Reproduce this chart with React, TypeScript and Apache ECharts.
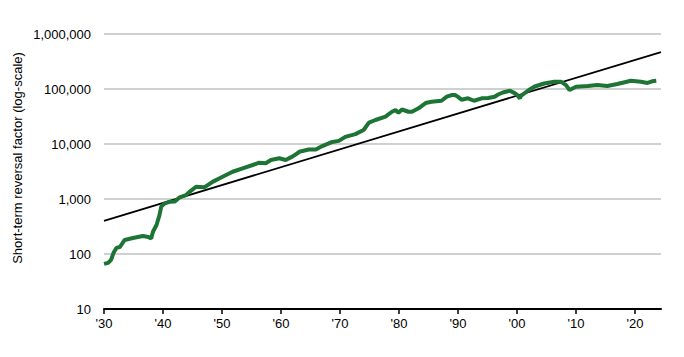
import React, { useEffect, useRef } from "react";
import * as echarts from "echarts";

const years: number[] = [
  1930.0, 1930.7, 1931.2, 1931.6, 1932.1, 1932.7, 1933.5, 1934.9, 1936.6, 1937.5,
  1938.0, 1938.3, 1938.9, 1939.4, 1939.7, 1940.3, 1941.1, 1942.0, 1942.8, 1943.9,
  1944.5, 1945.6, 1947.0, 1948.4, 1950.1, 1951.8, 1953.5, 1955.2, 1956.3, 1957.4,
  1958.3, 1959.7, 1960.8, 1961.9, 1962.8, 1963.1, 1964.7, 1965.9, 1967.0, 1968.7,
  1969.8, 1970.9, 1972.6, 1974.0, 1974.9, 1976.0, 1977.7, 1978.8, 1979.4, 1979.9,
  1980.5, 1981.6, 1982.2, 1983.3, 1984.5, 1985.5, 1987.2, 1988.1, 1988.9, 1989.5,
  1990.0, 1990.6, 1991.7, 1992.7, 1994.0, 1995.1, 1996.2, 1996.8, 1997.6, 1998.8,
  1999.6, 2000.0, 2000.5, 2000.7, 2001.3, 2002.0, 2003.0, 2004.6, 2006.3, 2007.5,
  2008.3, 2008.9, 2010.0, 2012.0, 2013.6, 2015.3, 2017.0, 2019.3, 2021.0, 2022.1,
  2022.9, 2023.6,
];

const factorValues: number[] = [
  66, 69, 78, 104, 129, 134, 180, 195, 212, 204,
  191, 254, 337, 510, 726, 834, 890, 900, 1070, 1175,
  1350, 1670, 1630, 2050, 2540, 3130, 3610, 4150, 4570, 4460,
  5130, 5500, 5130, 5900, 6790, 7240, 7960, 7960, 9160, 10900,
  11400, 13500, 15100, 18000, 24500, 27300, 31400, 38600, 41500, 37000,
  42400, 38600, 38600, 44600, 55600, 58800, 61200, 72400, 77600, 77600,
  72000, 63800, 67700, 61200, 67700, 68500, 72400, 79400, 86300, 93000,
  84100, 78000, 67700, 76000, 84100, 95900, 111000, 126000, 135000, 135000,
  118000, 95900, 110000, 113000, 118000, 113000, 123000, 141000, 135000, 129000,
  138000, 141000,
];

const trendYears: number[] = [1930, 2024.4];
const trendValues: number[] = [400, 470000];

const xTickYears: number[] = [1930, 1940, 1950, 1960, 1970, 1980, 1990, 2000, 2010, 2020];
const yAxisTitle = "Short-term reversal factor (log-scale)";

const FONT = "Liberation Sans, Arial, Helvetica, sans-serif";

export default function App() {
  const ref = useRef<HTMLDivElement>(null);
  useEffect(() => {
    if (!ref.current) return;
    const chart = echarts.init(ref.current, undefined, { renderer: "svg" });
    chart.setOption({
      animation: false,
      backgroundColor: "#ffffff",
      grid: { left: 104, right: 23, top: 34, bottom: 48 },
      graphic: [
        {
          type: "text",
          x: 17,
          y: 158,
          rotation: Math.PI / 2,
          style: {
            text: yAxisTitle,
            fontFamily: FONT,
            fontSize: 13,
            fill: "#000",
            align: "center",
            verticalAlign: "middle",
          },
        },
      ],
      xAxis: {
        type: "value",
        min: 1930,
        max: 2024.4,
        interval: 10,
        axisLine: { show: true, lineStyle: { color: "#000", width: 2 } },
        axisTick: {
          show: true,
          length: 5,
          lineStyle: { color: "#000", width: 1.5 },
          customValues: xTickYears,
        },
        axisLabel: {
          customValues: xTickYears,
          margin: 8,
          fontFamily: FONT,
          fontSize: 13,
          color: "#000",
          formatter: (v: number) => "'" + String(Math.round(v)).slice(2),
        },
        splitLine: { show: false },
      },
      yAxis: {
        type: "log",
        logBase: 10,
        min: 10,
        max: 1000000,
        axisLine: { show: false },
        axisTick: { show: false },
        axisLabel: {
          margin: 13,
          fontFamily: FONT,
          fontSize: 13,
          color: "#000",
          formatter: (v: number) => Math.round(v).toLocaleString("en-US"),
        },
        splitLine: { show: true, lineStyle: { color: "#c0c0c0", width: 1.5 } },
        minorSplitLine: { show: false },
      },
      series: [
        {
          type: "line",
          data: trendYears.map((y, i) => [y, trendValues[i]]),
          showSymbol: false,
          lineStyle: { color: "#000", width: 1.8 },
          z: 2,
        },
        {
          type: "line",
          data: years.map((y, i) => [y, factorValues[i]]),
          showSymbol: false,
          lineStyle: { color: "#1e7435", width: 4 },
          z: 3,
        },
      ],
    });
    return () => chart.dispose();
  }, []);
  return <div ref={ref} style={{ width: 684, height: 357, position: "absolute", left: 0, top: 0 }} />;
}
